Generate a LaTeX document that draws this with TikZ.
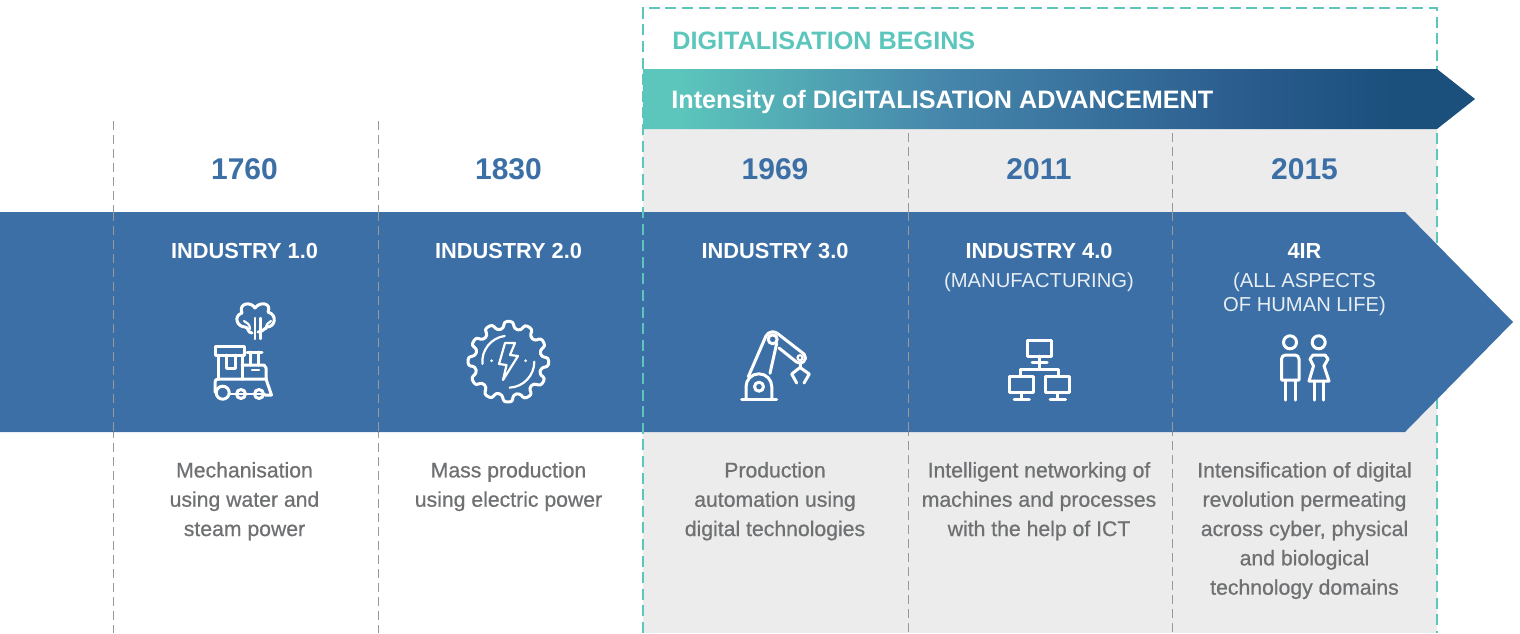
\documentclass[tikz,border=0pt]{standalone}
\usepackage{fontspec}
\usetikzlibrary{calc}
\setmainfont{Liberation Sans}
\newfontfamily\medfont[FakeBold=0.7]{Liberation Sans}
\definecolor{bandblue}{HTML}{3B6FA5}
\definecolor{digiteal}{HTML}{5CC6BC}
\definecolor{panelgrey}{HTML}{ECECEC}
\definecolor{bodygrey}{HTML}{6F7072}
\definecolor{rulegrey}{HTML}{98999B}
\definecolor{shadeone}{HTML}{4686AB}
\definecolor{shadetwo}{HTML}{2C5F90}
\definecolor{shadethree}{HTML}{1B4F7C}
\pgfdeclarehorizontalshading{digishade}{100bp}{color(0bp)=(digiteal); color(25bp)=(digiteal); color(27bp)=(digiteal); color(43bp)=(shadeone); color(60bp)=(shadetwo); color(70bp)=(shadethree); color(75bp)=(shadethree); color(100bp)=(shadethree)}
\tikzset{
	headlabel/.style={anchor=base west,inner sep=0pt,font=\fontsize{12.6}{12.6}\selectfont\bfseries},
	yearlabel/.style={text=bandblue,font=\fontsize{15}{15}\selectfont\bfseries},
	stagelabel/.style={text=white,font=\fontsize{10.9}{11}\selectfont\bfseries},
	scopelabel/.style={text=white!88!bandblue,align=center,font=\fontsize{10.1}{12}\selectfont},
	bodylabel/.style={text=bodygrey,align=center,anchor=north,font=\fontsize{10.6}{14.65}\medfont},
	columnrule/.style={rulegrey,line width=0.5pt,dash pattern=on 4.5pt off 2.5pt},
	tealrule/.style={digiteal,line width=1.2pt,dash pattern=on 5.5pt off 2.8pt},
	icon/.style={white,line width=1.5pt,line cap=round,line join=round},
	thinicon/.style={white,line width=1.1pt,line cap=round,line join=round}
}
\begin{document}
\begin{tikzpicture}[x=0.5pt,y=-0.5pt]
	\useasboundingbox (0,0) rectangle (1520,633);
	\fill[panelgrey] (643,129) rectangle (1437,633);
	\draw[tealrule] (643,633)--(643,8)--(1437,8)--(1437,633);
	\shade[shading=digishade] (643,69)--(1437,69)--(1475,99)--(1437,129)--(643,129)--cycle;
	\draw[columnrule] (113,121)--(113,633) (378,121)--(378,633);
	\draw[columnrule] (908,133)--(908,633) (1172,133)--(1172,633);
	\fill[bandblue] (0,212)--(1405,212)--(1513,322)--(1405,432)--(0,432)--cycle;
	\draw[columnrule] (113,212)--(113,432) (378,212)--(378,432) (908,212)--(908,432) (1172,212)--(1172,432);
	\draw[tealrule] (643,633)--(643,129);
	% headings
	\node[headlabel,text=digiteal] (begins) at (672,49) {DIGITALISATION BEGINS};
	\node[headlabel,text=white] (intensity) at (671,108) {Intensity of DIGITALISATION ADVANCEMENT};
	\node[yearlabel] (y1760) at (244.5,169) {1760};
	\node[yearlabel] (y1830) at (508.5,169) {1830};
	\node[yearlabel] (y1969) at (775,169) {1969};
	\node[yearlabel] (y2011) at (1039,169) {2011};
	\node[yearlabel] (y2015) at (1304.5,169) {2015};
	\node[stagelabel] (ind1) at (244.5,251) {INDUSTRY 1.0};
	\node[stagelabel] (ind2) at (508.5,251) {INDUSTRY 2.0};
	\node[stagelabel] (ind3) at (775,251) {INDUSTRY 3.0};
	\node[stagelabel] (ind4) at (1039,251) {INDUSTRY 4.0};
	\node[stagelabel] (fourir) at (1304.5,251) {4IR};
	\node[scopelabel] (manuf) at (1039,282.5) {(MANUFACTURING)};
	\node[scopelabel] (allasp) at (1304.5,294.5) {(ALL ASPECTS\\OF HUMAN LIFE)};
	\node[bodylabel] (txt1) at (244.5,455) {Mechanisation\\using water and\\steam power};
	\node[bodylabel] (txt2) at (508.5,455) {Mass production\\using electric power};
	\node[bodylabel] (txt3) at (775,455) {Production\\automation using\\digital technologies};
	\node[bodylabel] (txt4) at (1039,455) {Intelligent networking of\\machines and processes\\with the help of ICT};
	\node[bodylabel] (txt5) at (1304.5,455) {Intensification of digital\\revolution permeating\\across cyber, physical\\and biological\\technology domains};
	% train
	\draw[icon] (215,346) rectangle (244,355);
	\draw[icon] (218.5,355)--(218.5,379) (242,355)--(242,379);
	\draw[icon] (226,355)--(226,368)--(235,368)--(235,355);
	\draw[icon] (242,365)--(264,365)--(266,368)--(266,379);
	\draw[icon] (247,352)--(262,352) (250,352)--(250,365) (258,352)--(258,365);
	\draw[thinicon] (252,370)--(259,370);
	\draw[icon] (218,379)--(266,379)--(271.5,395)--(265,395);
	\draw[icon] (218,379) arc (-90:-180:3)--(215,392);
	\draw[icon] (222.7,392.7) circle (6.5);
	\draw[icon] (241,394) circle (4.5) (259,394) circle (4.5);
	\draw[thinicon] (229,394)--(265,394);
	% smoke
	\draw[icon] (252,333) .. controls (247,333) and (249,327) .. (245,327) .. controls (237,327) and (233,316) .. (242,313) .. controls (238,303) and (251,301) .. (255,308) .. controls (260,301) and (272,303) .. (268,312) .. controls (278,315) and (275,327) .. (267,327) .. controls (264,329) and (262,332) .. (258,332);
	\draw[thinicon] (255,318)--(255,339) (260.5,318)--(260.5,339);
	\draw[thinicon] (250,329) .. controls (250,324) and (247,323) .. (244,321) (266,329) .. controls (266,324) and (268,323) .. (271,321);
	% gear
	\draw[icon,rounded corners=1.5pt] ($(508.3,361.7)+(7:40.5)$) \foreach \a in {0,30,...,330}{ -- ($(508.3,361.7)+(\a+7:40.5)$) -- ($(508.3,361.7)+(\a+10:33.5)$) -- ($(508.3,361.7)+(\a+22:33.5)$) -- ($(508.3,361.7)+(\a+24:40.5)$)} -- cycle;
	\draw[thinicon] ($(508.3,361.7)+(-98:26)$) arc (-98:-185:26);
	\draw[thinicon] ($(508.3,361.7)+(0:26)$) arc (0:87:26);
	\fill[white] (491.7,360.7) circle (1.5) (525.7,360.7) circle (1.5);
	\draw[thinicon] (505,343)--(515,343)--(510,355)--(518,356)--(503,380)--(506.5,365)--(499,364)--cycle;
	% robot arm
	\draw[icon] (741.7,399.3)--(776.7,399.3);
	\draw[icon] (746,399.3)--(746,386.7) arc (-180:0:12.9)--(771.8,399.3);
	\draw[icon] (759,386.7) circle (4.5);
	\draw[icon] (748.3,376.7)--(765.9,336.1) arc (-155:-50:7.5)--(804.2,354.2) arc (-40:130:5.5)--(779,348);
	\draw[icon] (770,373.3)--(776.7,343.3);
	\draw[icon] (772.7,339.3) circle (4.5);
	\draw[thinicon] (800,357.7) circle (2.5);
	\draw[icon] (800,362)--(800,367.5);
	\draw[icon] (796.7,383)--(791.7,374)--(800,367.5)--(809.3,374)--(804,383);
	% network
	\draw[icon] (1027.3,340) rectangle (1051.7,356);
	\draw[icon] (1039.5,356)--(1039.5,369.5) (1032,362.7)--(1047,362.7);
	\draw[icon] (1020,376)--(1020,369.5)--(1058,369.5)--(1058,376);
	\draw[icon] (1009.3,376.7) rectangle (1033.3,392.3);
	\draw[icon] (1045.7,376.7) rectangle (1069.7,392.3);
	\draw[icon] (1021.3,392.3)--(1021.3,399) (1014,399)--(1029.3,399);
	\draw[icon] (1057.7,392.3)--(1057.7,399) (1050,399)--(1065.7,399);
	% people
	\draw[icon] (1290,342.3) circle (6.5);
	\draw[icon] (1318.7,342.3) circle (6.5);
	\draw[icon] (1281.5,380)--(1281.5,359) arc (180:270:4)--(1295,355) arc (-90:0:4)--(1299,380)--cycle;
	\draw[icon] (1285.5,380)--(1285.5,400) (1295,380)--(1295,400);
	\draw[icon] (1313,355)--(1325,355)--(1328,359)--(1324,366)--(1329,381)--(1309,381)--(1313.5,366)--(1310,359)--cycle;
	\draw[icon] (1314.5,381)--(1314.5,400) (1323.5,381)--(1323.5,400);
\end{tikzpicture}
\end{document}
